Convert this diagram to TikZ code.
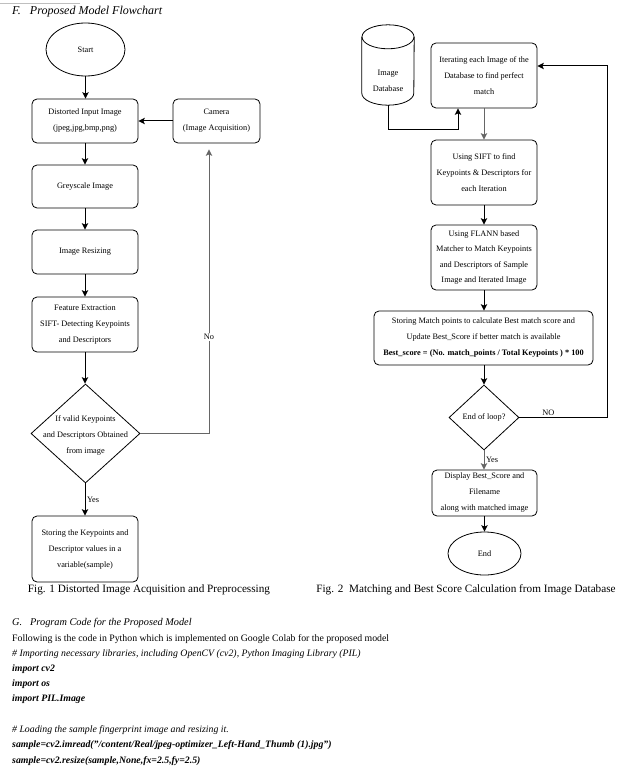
\documentclass[tikz,border=0pt]{standalone}
\usepackage{fontspec}
\setmainfont{Liberation Serif}
\usetikzlibrary{arrows.meta,shapes.geometric,calc}
\newcommand\boxfont{\fontsize{8.3}{16}\selectfont}
\newcommand\capfont{\fontsize{11.2}{13}\selectfont}
\newcommand\bodyfont{\fontsize{9.8}{12}\selectfont}
\begin{document}
\begin{tikzpicture}[x=1pt,y=-1pt,
  box/.style={draw, rounded corners=5pt, line width=0.8pt, align=center, font=\boxfont, inner sep=1pt},
  oval/.style={ellipse, draw, line width=0.8pt, font=\boxfont, inner sep=0pt},
  diam/.style={diamond, draw, line width=0.8pt, inner sep=0pt},
  arr/.style={-{Stealth[length=6.5pt,width=6.5pt,inset=1.5pt]}, line width=1pt},
  garr/.style={arr, draw=black!60},
  lbl/.style={font=\boxfont, inner sep=1.5pt},
  txt/.style={anchor=west, font=\bodyfont, inner sep=0pt, text height=0.7em, text depth=0.25em},
  lw/.style={line width=0.8pt}]
\useasboundingbox (0,0) rectangle (625,773);
\fill[white] (0,0) rectangle (625,773);
\draw[black!25] (0,3) -- (80,3);

% headings
\node[txt, font=\fontsize{12}{14}\selectfont\itshape] (hF) at (12,12) {F.\hspace{9pt}Proposed Model Flowchart};

% ---------- left flowchart ----------
\node[oval, minimum width=79pt, minimum height=53pt] (start) at (85.5,49.5) {Start};
\node[box, minimum width=106pt, minimum height=44pt] (dist) at (85,121) {Distorted Input Image\\(jpeg,jpg,bmp,png)};
\node[box, minimum width=87pt, minimum height=44pt] (cam) at (216.5,121) {Camera\\(Image Acquisition)};
\node[box, minimum width=106pt, minimum height=43pt] (grey) at (85,186.5) {Greyscale Image};
\node[box, minimum width=106pt, minimum height=44pt] (resz) at (85,252) {Image Resizing};
\node[box, minimum width=106pt, minimum height=55pt] (feat) at (85,324.5) {Feature Extraction\\SIFT- Detecting Keypoints\\and Descriptors};
\node[diam, minimum width=109pt, minimum height=99pt] (d1) at (85.5,433.5) {};
\node[align=center, font=\boxfont, inner sep=0pt] (d1t) at (85.5,435) {If valid Keypoints\\and Descriptors Obtained\\from image};
\node[box, minimum width=106pt, minimum height=66pt] (store) at (85,549) {Storing the Keypoints and\\Descriptor values in a\\variable(sample)};
\coordinate (camin) at ([xshift=-7.5pt,yshift=-6pt]cam.south);

\draw[arr] (start.south) -- (start.south |- dist.north);
\draw[arr] (cam.west) -- (dist.east);
\draw[arr] (dist) -- (grey);
\draw[arr] (grey) -- (resz);
\draw[arr] (resz) -- (feat);
\draw[arr] (feat.south) -- (feat.south |- d1.north);
\draw[arr] (d1.south -| store.north) -- node[lbl, right] {Yes} (store.north);
\draw[garr] (d1.east) -| node[lbl, pos=0.67, fill=white] {No} (camin);

\node[font=\capfont] (cap1) at (149,590) {Fig. 1 Distorted Image Acquisition and Preprocessing};

% ---------- right flowchart ----------
\node[minimum width=52pt, minimum height=80pt, inner sep=0pt] (db) at (388,65) {};
\draw[lw] ([yshift=-12pt]db.north) ellipse[x radius=26pt, y radius=12pt];
\draw[lw] ([yshift=-12pt]db.north west) -- ([yshift=12pt]db.south west)
  arc[start angle=180, end angle=360, x radius=26pt, y radius=12pt] -- ([yshift=-12pt]db.north east);
\node[align=center, font=\boxfont, inner sep=0pt] (dbt) at (388,80.5) {Image\\Database};

\node[box, minimum width=106pt, minimum height=65pt] (it) at (484,75.5) {Iterating each Image of the\\Database to find perfect\\match};
\node[box, minimum width=106pt, minimum height=65pt] (sift) at (484,172.5) {Using SIFT to find\\Keypoints \& Descriptors for\\each Iteration};
\node[box, minimum width=106pt, minimum height=65pt, font=\fontsize{8.3}{15.5}\selectfont] (flann) at (484,257.5) {Using FLANN based\\Matcher to Match Keypoints\\and Descriptors of Sample\\Image and Iterated Image};
\node[box, minimum width=219pt, minimum height=54pt] (match) at (483.5,338) {Storing Match points to calculate Best match score and\\Update Best\_Score if better match is available\\\textbf{Best\_score = (No. match\_points / Total Keypoints ) * 100}};
\node[diam, minimum width=70pt, minimum height=65pt, font=\boxfont] (d2) at (484,417.5) {End of loop?};
\node[box, minimum width=105pt, minimum height=46pt] (disp) at (484.5,493) {Display Best\_Score and\\Filename\\along with matched image};
\node[oval, minimum width=73pt, minimum height=43pt] (endn) at (484.5,553.5) {End};
\coordinate (loopc) at (607,66);

\draw[arr] (db.south) -- ++(0,24) -| ([xshift=-26pt]it.south);
\draw[garr] (it) -- (sift);
\draw[arr] (sift) -- (flann);
\draw[arr] (flann) -- (flann.south |- match.north);
\draw[arr] (match.south -| d2.north) -- (d2.north);
\draw[garr] (d2.south) -- node[lbl, right] {Yes} (d2.south |- disp.north);
\draw[arr] (disp.south -| endn.north) -- (endn.north);
\draw[arr] (d2.east) -- node[lbl, above, pos=0.33] {NO} (d2.east -| loopc) -- (loopc) -- (loopc -| it.east);

\node[font=\capfont] (cap2) at (466,590) {Fig. 2\ \ Matching and Best Score Calculation from Image Database};

% ---------- text below ----------
\node[txt, font=\fontsize{10.3}{12}\selectfont\itshape] (hG) at (12,623) {G.\hspace{8pt}Program Code for the Proposed Model};
\node[txt] (l1) at (12,639) {Following is the code in Python which is implemented on Google Colab for the proposed model};
\node[txt, font=\bodyfont\itshape] (l2) at (12,654) {\# Importing necessary libraries, including OpenCV (cv2), Python Imaging Library (PIL)};
\node[txt, font=\bodyfont\bfseries\itshape] (l3) at (12,669) {import cv2};
\node[txt, font=\bodyfont\bfseries\itshape] (l4) at (12,684) {import os};
\node[txt, font=\bodyfont\bfseries\itshape] (l5) at (12,699) {import PIL.Image};
\node[txt, font=\bodyfont\itshape] (l6) at (12,730) {\# Loading the sample fingerprint image and resizing it.};
\node[txt, font=\bodyfont\bfseries\itshape] (l7) at (12,745) {sample=cv2.imread("/content/Real/jpeg-optimizer\_Left-Hand\_Thumb (1).jpg")};
\node[txt, font=\bodyfont\bfseries\itshape] (l8) at (12,761) {sample=cv2.resize(sample,None,fx=2.5,fy=2.5)};
\end{tikzpicture}
\end{document}
